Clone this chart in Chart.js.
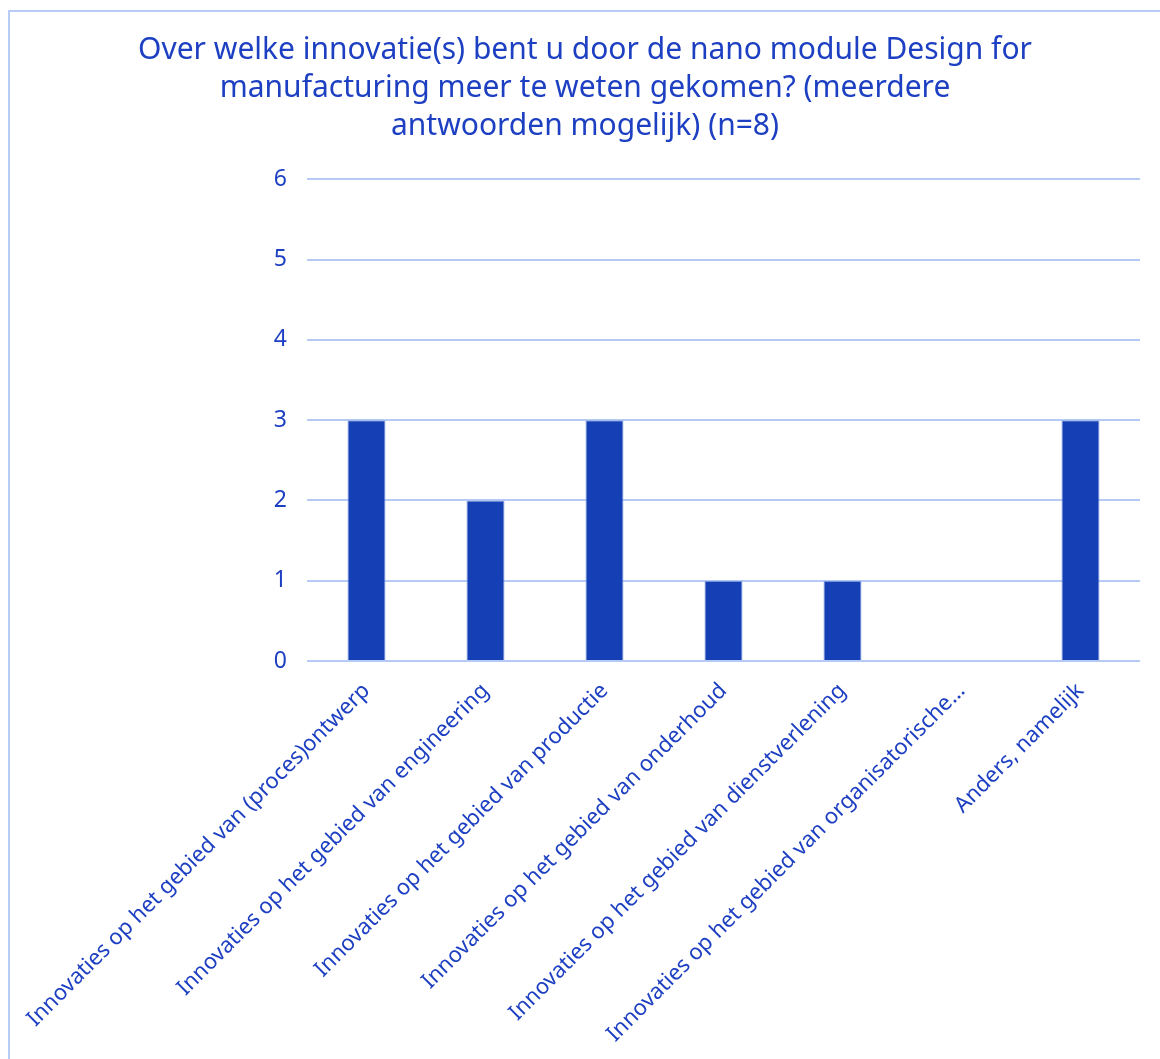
<!DOCTYPE html>
<html>
<head>
<meta charset="utf-8">
<script src="https://cdn.jsdelivr.net/npm/chart.js@4/dist/chart.umd.min.js"></script>
<style>
  html, body { margin: 0; padding: 0; background: #fff; overflow: hidden; }
  #frame {
    position: absolute; left: 8px; top: 10px;
    width: 1200px; height: 1100px;
    border-left: 2px solid #b8ccf8; border-top: 2px solid #b8ccf8;
  }
  #chart { position: absolute; left: 0; top: 0; }
</style>
</head>
<body>
<div id="frame"></div>
<canvas id="chart" width="1160" height="1059"></canvas>
<script>
var titleLines = [
    "Over welke innovatie(s) bent u door de nano module Design for",
    "manufacturing meer te weten gekomen? (meerdere",
    "antwoorden mogelijk) (n=8)"
];
var categories = [
    "Innovaties op het gebied van (proces)ontwerp",
    "Innovaties op het gebied van engineering",
    "Innovaties op het gebied van productie",
    "Innovaties op het gebied van onderhoud",
    "Innovaties op het gebied van dienstverlening",
    "Innovaties op het gebied van organisatorische…",
    "Anders, namelijk"
];
var counts = [3, 2, 3, 1, 1, 0, 3];
var yTicks = [0, 1, 2, 3, 4, 5, 6];

var textBlue = "#1d3fc2";
var gridBlue = "#b5cbf6";
var barBlue = "#153fb5";

var ctx = document.getElementById("chart").getContext("2d");
var chart = new Chart(ctx, {
    type: "bar",
    data: {
        labels: categories,
        datasets: [{
            data: counts,
            backgroundColor: barBlue,
            borderColor: "#8fa8e6",
            borderWidth: 1,
            barPercentage: 0.32,
            categoryPercentage: 1
        }]
    },
    options: {
        responsive: false,
        animation: false,
        layout: { padding: { left: 30, right: 20, top: 31, bottom: 10 } },
        plugins: {
            legend: { display: false },
            tooltip: { enabled: false },
            title: {
                display: true,
                text: titleLines,
                color: textBlue,
                font: { family: "'Noto Sans'", size: 30, weight: "normal", lineHeight: 1.27 },
                padding: { top: 0, bottom: 34 }
            }
        },
        scales: {
            x: {
                grid: { display: false, drawTicks: false },
                border: { display: false },
                afterFit: function (axis) {
                    // let the slanted labels run into the left margin
                    axis.height = 388;
                    axis.paddingLeft = 0;
                    axis.paddingRight = 0;
                },
                ticks: {
                    color: textBlue,
                    font: { family: "'Noto Sans'", size: 22 },
                    minRotation: 45,
                    maxRotation: 45,
                    padding: 17,
                    autoSkip: false
                }
            },
            y: {
                min: 0,
                max: 6,
                afterBuildTicks: function (axis) {
                    axis.ticks = yTicks.map(function (v) { return { value: v }; });
                },
                afterFit: function (axis) { axis.width = 277; },
                grid: { color: gridBlue, lineWidth: 2, drawTicks: false },
                border: { display: false },
                ticks: {
                    color: textBlue,
                    font: { family: "'Noto Sans'", size: 23 },
                    padding: 20
                }
            }
        }
    }
});
</script>
</body>
</html>
